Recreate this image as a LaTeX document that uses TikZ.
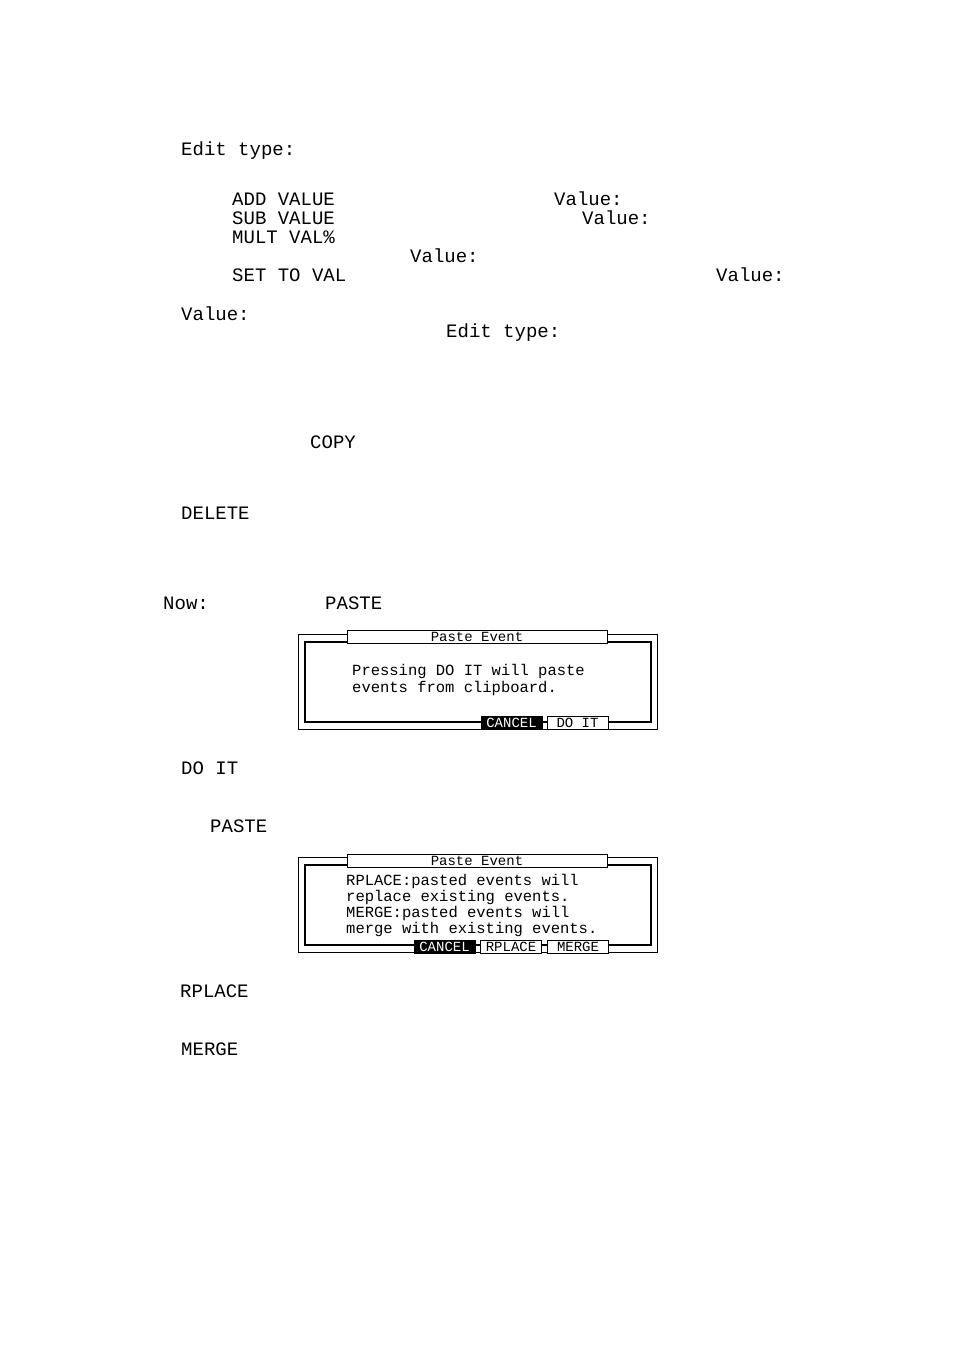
\documentclass[tikz,border=0pt]{standalone}
\usepackage{fontspec}
\setmainfont{Liberation Mono}
\begin{document}
\begin{tikzpicture}[x=1pt,y=-1pt,
  lbl/.style={anchor=west,inner sep=0pt,font=\fontsize{19}{19}\selectfont},
  dlg/.style={anchor=west,inner sep=0pt,font=\fontsize{15.5}{16}\selectfont},
  ttl/.style={inner sep=0pt,font=\fontsize{14}{14}\selectfont},
  btn/.style={draw,line width=1pt,fill=white,minimum height=13pt,inner sep=0pt,font=\fontsize{14}{14}\selectfont},
  bbtn/.style={btn,fill=black,text=white}]
\useasboundingbox (0,0) rectangle (954,1351);
\node[lbl] (t1) at (181,151) {Edit type:};
\node[lbl] (t2) at (232,199) {ADD VALUE};
\node[lbl] (t3) at (554,199) {Value:};
\node[lbl] (t4) at (232,218) {SUB VALUE};
\node[lbl] (t5) at (582,218) {Value:};
\node[lbl] (t6) at (232,237) {MULT VAL\%};
\node[lbl] (t7) at (410,256) {Value:};
\node[lbl] (t8) at (232,275) {SET TO VAL};
\node[lbl] (t9) at (716,275) {Value:};
\node[lbl] (t10) at (181,314) {Value:};
\node[lbl] (t11) at (446,333) {Edit type:};
\node[lbl] (t12) at (310,442) {COPY};
\node[lbl] (t13) at (181,513) {DELETE};
\node[lbl] (t14) at (163,603) {Now:};
\node[lbl] (t15) at (325,603) {PASTE};
\node[lbl] (t16) at (181,768) {DO IT};
\node[lbl] (t17) at (210,826) {PASTE};
\node[lbl] (t18) at (180,991) {RPLACE};
\node[lbl] (t19) at (181,1049) {MERGE};
% dialog 1
\draw[line width=1pt] (298,634) rectangle (657,729);
\draw[line width=2pt] (305,642) rectangle (651,722);
\node[btn,minimum width=260pt] (d1t) at (477,637) {Paste Event};
\node[dlg] (d1a) at (352,671) {Pressing DO IT will paste};
\node[dlg] (d1b) at (352,688) {events from clipboard.};
\node[bbtn,minimum width=61pt] (d1c) at (511.5,722.5) {CANCEL};
\node[btn,minimum width=61pt] (d1d) at (577.5,722.5) {DO IT};
% dialog 2
\draw[line width=1pt] (298,857) rectangle (657,952);
\draw[line width=2pt] (305,865) rectangle (651,945);
\node[btn,minimum width=260pt] (d2t) at (477,860.5) {Paste Event};
\node[dlg] (d2a) at (346,881) {RPLACE:pasted events will};
\node[dlg] (d2b) at (346,897) {replace existing events.};
\node[dlg] (d2c) at (346,913) {MERGE:pasted events will};
\node[dlg] (d2d) at (346,929) {merge with existing events.};
\node[bbtn,minimum width=61pt] (d2e) at (444.5,946.5) {CANCEL};
\node[btn,minimum width=61pt] (d2f) at (511,946.5) {RPLACE};
\node[btn,minimum width=61pt] (d2g) at (578,946.5) {MERGE};
\end{tikzpicture}
\end{document}
